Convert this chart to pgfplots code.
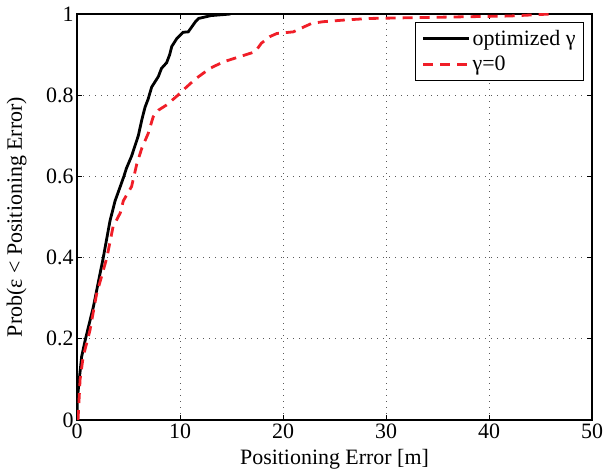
\documentclass[border=0pt]{standalone}
\usepackage{fontspec}
\setmainfont{Liberation Serif}
\usepackage{pgfplots}
\pgfplotsset{compat=1.18}
\definecolor{myred}{RGB}{240,30,40}
\begin{document}
\begin{tikzpicture}
\useasboundingbox (-77bp,-52bp) rectangle (539bp,420bp);
\begin{axis}[
  at={(0,0)}, anchor=south west,
  width=515bp, height=406bp, scale only axis,
  xmin=0, xmax=50, ymin=0, ymax=1,
  xtick={0,10,20,30,40,50},
  ytick={0,0.2,0.4,0.6,0.8,1},
  /pgf/number format/assume math mode=true,
  /pgf/number format/fixed,
  tick align=inside,
  xtick pos=both, ytick pos=both,
  major tick length=5bp,
  axis line style={line width=1.2bp},
  tick style={line width=0.8bp, black},
  grid=major,
  major grid style={dash pattern=on 1bp off 5bp, black!65, line width=0.8bp},
  tick label style={font=\rmfamily\fontsize{22}{26}\selectfont},
  label style={font=\rmfamily\fontsize{22}{26}\selectfont},
  xlabel={Positioning Error [m]},
  ylabel={Prob(ε < Positioning Error)},
  xlabel style={at={(axis description cs:0.5,-0.096)}, anchor=center},
  ylabel style={at={(axis description cs:-0.117,0.5)}, anchor=center},
  legend style={at={(1,1)}, anchor=north east, xshift=-8bp, yshift=-8bp,
    font=\rmfamily\fontsize{22}{26}\selectfont, draw=black, line width=1bp,
    inner xsep=6bp, inner ysep=6bp, row sep=5bp},
  legend cell align=left,
  legend image code/.code={\draw[#1] (0bp,0bp) -- (46bp,0bp);},
]
\addplot[black, line width=2.8bp] coordinates {
(0,0) (0.03,0.05) (0.25,0.107) (0.45,0.156) (0.8,0.197) (1.6,0.28) (2.55,0.40)
(3.2,0.49) (3.7,0.54) (4.2,0.575) (4.55,0.60) (4.8,0.62) (5.3,0.65) (5.95,0.70)
(6.3,0.74) (6.6,0.77) (6.9,0.79) (7.25,0.82) (7.9,0.846) (8.2,0.866) (8.7,0.88)
(9.0,0.90) (9.2,0.92) (9.7,0.94) (10.3,0.955) (10.8,0.956) (11.5,0.981) (11.8,0.989)
(13,0.996) (14.9,1.0)
};
\addlegendentry{optimized γ}
\addplot[myred, line width=2.8bp, dash pattern=on 10bp off 7bp] coordinates {
(0.1,0) (0.3,0.1) (0.6,0.156) (1.25,0.22) (1.9,0.31) (2.9,0.40) (3.5,0.476)
(4.2,0.51) (4.5,0.54) (5.3,0.575) (5.8,0.63) (6.3,0.67) (6.9,0.705) (7.4,0.747)
(7.9,0.763) (8.7,0.776) (9.8,0.80) (10.5,0.817) (11.5,0.84) (12.9,0.866)
(14.2,0.882) (15.8,0.895) (17.3,0.907) (17.9,0.928) (18.7,0.944) (19.4,0.952)
(21,0.956) (22.1,0.969) (22.8,0.977) (23.9,0.981) (25.9,0.985) (28.4,0.989)
(35,0.992) (42,0.995) (46,1.0)
};
\addlegendentry{γ=0}
\end{axis}
\end{tikzpicture}
\end{document}
